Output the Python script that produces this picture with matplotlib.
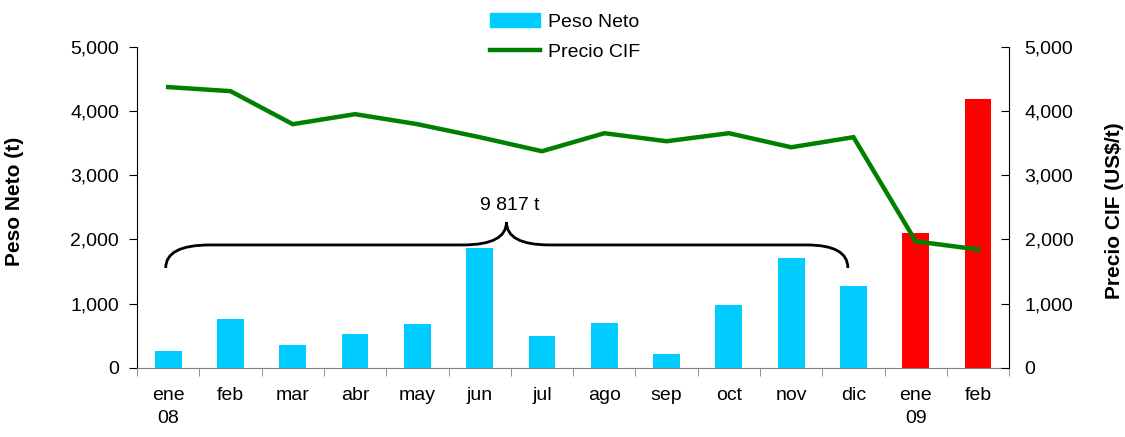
import matplotlib
matplotlib.use("Agg")
import matplotlib.pyplot as plt
from matplotlib.path import Path
from matplotlib.patches import PathPatch, Patch
from matplotlib.lines import Line2D
from matplotlib.ticker import FuncFormatter, FixedLocator

plt.rcParams['font.family'] = ['Liberation Sans', 'DejaVu Sans']

# data
meses = ['ene\n08', 'feb', 'mar', 'abr', 'may', 'jun', 'jul', 'ago',
         'sep', 'oct', 'nov', 'dic', 'ene\n09', 'feb']
peso_neto = [265, 766, 360, 531, 688, 1860, 500, 703, 219, 984, 1703, 1266, 2094, 4188]
precio_cif = [4375, 4312, 3797, 3953, 3797, 3594, 3375, 3656, 3531, 3656, 3437, 3594, 1969, 1844]
colores = ['#00CCFF'] * 12 + ['#FF0000'] * 2
total_2008 = '9 817 t'

fig = plt.figure(figsize=(11.25, 4.37), dpi=100)
ax = fig.add_axes([0.1218, 0.1586, 0.7753, 0.7338])
x = list(range(len(meses)))

ax.bar(x, peso_neto, width=0.43, color=colores, zorder=2)
ax.set_xlim(-0.5, len(meses) - 0.5)
ax.set_ylim(0, 5000)
ax.set_yticks(range(0, 5001, 1000))
fmt = FuncFormatter(lambda v, p: f'{int(v):,}')
ax.yaxis.set_major_formatter(fmt)
ax.tick_params(axis='y', labelsize=14, length=6, pad=7, direction='out')

ax.set_xticks(x)
ax.set_xticklabels(meses)
ax.tick_params(axis='x', which='major', length=0, labelsize=14, pad=14)
ax.xaxis.set_minor_locator(FixedLocator([i + 0.5 for i in range(-1, len(meses))]))
ax.tick_params(axis='x', which='minor', length=6, color='#808080', direction='out')
for t in ax.get_xticklabels():
    t.set_linespacing(1.45)

ax.spines['top'].set_visible(False)
ax.spines['right'].set_visible(False)
ax.spines['bottom'].set_color('#808080')

ax.set_ylabel('Peso Neto (t)', fontsize=15, fontweight='bold')
ax.yaxis.set_label_coords(-0.13, 0.52)

ax2 = ax.twinx()
ax2.plot(x, precio_cif, color='#008000', lw=3.2, solid_joinstyle='miter', zorder=3)
ax2.set_ylim(0, 5000)
ax2.set_yticks(range(0, 5001, 1000))
ax2.yaxis.set_major_formatter(fmt)
ax2.tick_params(axis='y', labelsize=14, length=6, pad=11, direction='in')
ax2.spines['top'].set_visible(False)
ax2.spines['left'].set_visible(False)
ax2.spines['bottom'].set_visible(False)
ax2.set_ylabel('Precio CIF (US$/t)', fontsize=15, fontweight='bold')
ax2.yaxis.set_label_coords(1.11, 0.49)

# curly brace over ene-dic 2008
x0, x1 = -0.04, 10.91
xt = 5.43
ye, ym, yt = 1555, 1914, 2272
verts = [(x0, ye), (x0, ym), (x0 + 0.71, ym),
         (xt - 0.70, ym),
         (xt, ym), (xt, yt),
         (xt, ym), (xt + 0.69, ym),
         (x1 - 0.66, ym),
         (x1, ym), (x1, ye)]
codes = [Path.MOVETO, Path.CURVE3, Path.CURVE3,
         Path.LINETO,
         Path.CURVE3, Path.CURVE3,
         Path.CURVE3, Path.CURVE3,
         Path.LINETO,
         Path.CURVE3, Path.CURVE3]
ax.add_patch(PathPatch(Path(verts, codes), fill=False, lw=2, color='black', zorder=4))
ax.text(xt + 0.05, 2400, total_2008, ha='center', va='bottom', fontsize=14)

handles = [Patch(color='#00CCFF'), Line2D([], [], color='#008000', lw=3.2)]
fig.legend(handles, ['Peso Neto', 'Precio CIF'], loc='upper center',
           bbox_to_anchor=(0.502, 1.01), frameon=False, fontsize=14,
           handlelength=2.6, handletextpad=0.4, labelspacing=0.65)

fig.savefig('out.png', dpi=100)
